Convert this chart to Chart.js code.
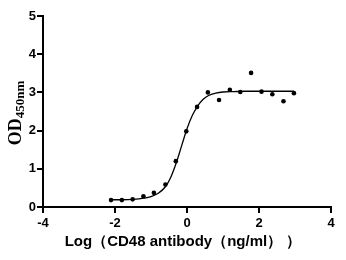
<!DOCTYPE html>
<html>
<head>
<meta charset="utf-8">
<script src="https://cdn.jsdelivr.net/npm/chart.js@4/dist/chart.umd.min.js"></script>
<style>
  html, body { margin: 0; padding: 0; background: #fff; }
  #wrap { width: 346px; height: 260px; }
</style>
</head>
<body>
<div id="wrap"><canvas id="chart" width="346" height="260"></canvas></div>
<script>
// measured points
const pointX = [-2.11, -1.81, -1.51, -1.21, -0.92, -0.60, -0.31, -0.02, 0.28, 0.58, 0.89, 1.19, 1.48, 1.78, 2.07, 2.37, 2.68, 2.97];
const pointY = [0.18, 0.18, 0.20, 0.28, 0.37, 0.59, 1.20, 1.98, 2.62, 3.00, 2.80, 3.07, 3.01, 3.51, 3.02, 2.95, 2.77, 2.98];

// fitted curve
const curveX = [-2.11, -1.8, -1.5, -1.2, -1.0, -0.8, -0.6, -0.45, -0.3, -0.15, 0, 0.15, 0.3, 0.45, 0.6, 0.8, 1.0, 1.3, 1.6, 2.0, 2.5, 2.97];
const curveY = [0.19, 0.19, 0.20, 0.23, 0.27, 0.36, 0.53, 0.78, 1.15, 1.60, 2.05, 2.40, 2.65, 2.82, 2.92, 2.98, 3.01, 3.02, 3.03, 3.03, 3.03, 3.03];

const xTicks = [-4, -2, 0, 2, 4];
const yTicks = [0, 1, 2, 3, 4, 5];

const xTitle = 'Log（CD48 antibody（ng/ml） ）';
const yTitleMain = 'OD';
const yTitleSub = '450nm';

const titlePlugin = {
    id: 'titles',
    afterDraw(chart) {
        const ctx = chart.ctx;
        ctx.save();
        ctx.fillStyle = '#000';
        // x title
        ctx.font = 'bold 15px "Liberation Sans", Arial, sans-serif';
        ctx.textAlign = 'center';
        ctx.textBaseline = 'middle';
        ctx.fillText(xTitle, 183, 242);
        // y title with subscript
        ctx.translate(15, 113);
        ctx.rotate(-Math.PI / 2);
        ctx.font = 'bold 18px "Liberation Serif", "Times New Roman", serif';
        const w1 = ctx.measureText(yTitleMain).width;
        ctx.font = 'bold 13px "Liberation Serif", "Times New Roman", serif';
        const w2 = ctx.measureText(yTitleSub).width;
        let x0 = -(w1 + w2) / 2;
        ctx.textAlign = 'left';
        ctx.textBaseline = 'alphabetic';
        ctx.font = 'bold 18px "Liberation Serif", "Times New Roman", serif';
        ctx.fillText(yTitleMain, x0, 6);
        ctx.font = 'bold 13px "Liberation Serif", "Times New Roman", serif';
        ctx.fillText(yTitleSub, x0 + w1, 9);
        ctx.restore();
    }
};

const tickFont = { family: '"Liberation Sans", Arial, sans-serif', size: 13, weight: 'bold' };

new Chart(document.getElementById('chart'), {
    type: 'scatter',
    data: {
        datasets: [
            {
                type: 'line',
                data: curveX.map((x, i) => ({ x: x, y: curveY[i] })),
                borderColor: '#000',
                borderWidth: 1.3,
                pointRadius: 0,
                cubicInterpolationMode: 'monotone',
                fill: false,
            },
            {
                data: pointX.map((x, i) => ({ x: x, y: pointY[i] })),
                backgroundColor: '#000',
                borderColor: '#000',
                pointRadius: 2.3,
                borderWidth: 0,
            },
        ],
    },
    options: {
        responsive: false,
        animation: false,
        layout: { padding: { top: 16, right: 15, left: 0, bottom: 0 } },
        plugins: {
            legend: { display: false },
            tooltip: { enabled: false },
        },
        scales: {
            x: {
                type: 'linear',
                min: -4,
                max: 4,
                afterFit: (s) => { s.height = 53; },
                afterBuildTicks: (s) => { s.ticks = xTicks.map(v => ({ value: v })); },
                ticks: { color: '#000', font: tickFont, padding: 3 },
                grid: { drawOnChartArea: false, drawTicks: true, tickLength: 6, color: '#000', lineWidth: 2 },
                border: { color: '#000', width: 2 },
            },
            y: {
                min: 0,
                max: 5,
                afterFit: (s) => { s.width = 43; },
                afterBuildTicks: (s) => { s.ticks = yTicks.map(v => ({ value: v })); },
                ticks: { color: '#000', font: tickFont, padding: 1 },
                grid: { drawOnChartArea: false, drawTicks: true, tickLength: 6, color: '#000', lineWidth: 2 },
                border: { color: '#000', width: 2 },
            },
        },
    },
    plugins: [titlePlugin],
});
</script>
</body>
</html>
